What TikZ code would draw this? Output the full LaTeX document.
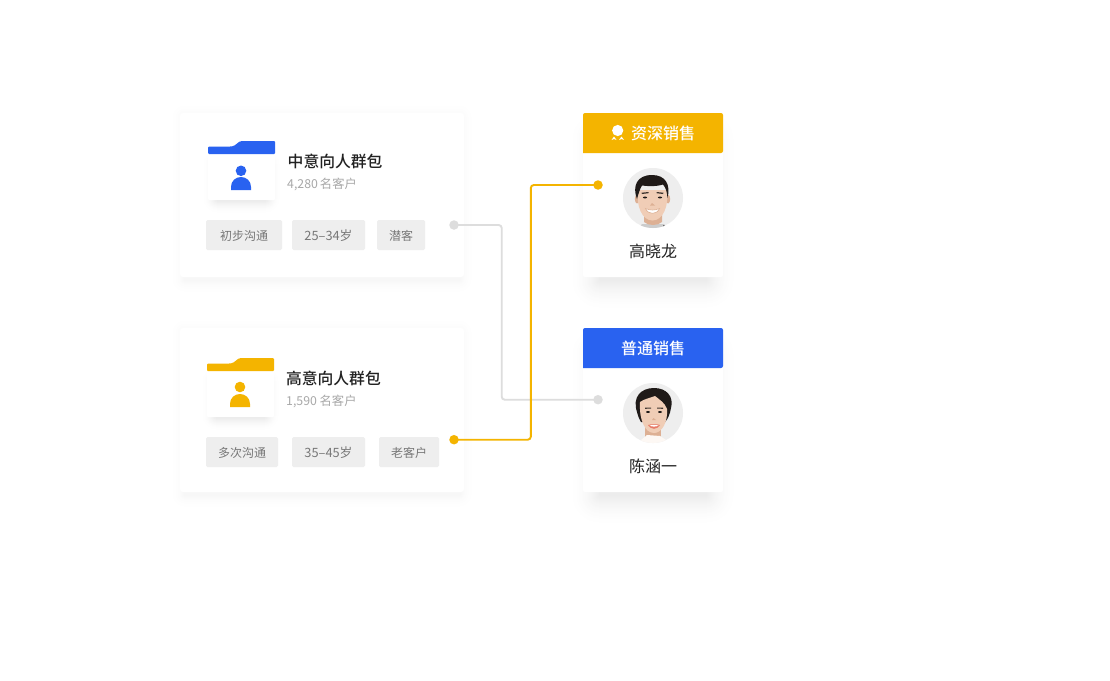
\documentclass[tikz,border=0pt]{standalone}
\usepackage{fontspec}
\setmainfont{Noto Sans CJK SC}
\newfontfamily\medfont{Noto Sans CJK SC Medium}
\definecolor{ablue}{HTML}{2962F0}
\definecolor{ayel}{HTML}{F4B400}
\definecolor{agray}{HTML}{DDDDDD}
\definecolor{atag}{HTML}{EEEEEE}
\definecolor{atxt}{HTML}{777777}
\definecolor{asub}{HTML}{A8A8A8}
\definecolor{adark}{HTML}{222222}
\definecolor{askin}{HTML}{F0CDB6}
\definecolor{askind}{HTML}{DDB094}
\definecolor{ahair}{HTML}{1F1A18}
\newcommand{\softshadow}[6]{%
  \foreach \i in {#5,...,1}{%
    \pgfmathsetmacro{\dk}{#6*(1-(\i-0.5)/#5)*(1-(\i-0.5)/#5)}%
    \fill[black!\dk!white,rounded corners={\i pt}]
      (#1-\i,#2-\i) rectangle (#3+\i,#4+\i);}%
  \fill[black!#6!white] (#1,#2) rectangle (#3,#4);}
\tikzset{
  card/.style={draw=none,fill=white,rounded corners=3,inner sep=0,minimum width=#1},
  tagbox/.style={fill=atag,rounded corners=1.5,inner sep=0,minimum height=30,text=atxt,text height=11pt,text depth=0pt,font=\fontsize{12}{12}\selectfont},
  numtag/.style={tagbox,font=\fontsize{12.8}{12}\selectfont},
  title/.style={anchor=west,inner sep=0,text=adark,font=\fontsize{15.8}{16}\medfont},
  subt/.style={anchor=west,inner sep=0,text=asub,font=\fontsize{12.3}{12}\selectfont},
  nameT/.style={inner sep=0,text=adark,font=\fontsize{16}{16}\selectfont},
  headT/.style={inner sep=0,text=white,font=\fontsize{16}{16}\medfont},
  dot/.style={circle,fill=#1,inner sep=0,minimum size=9.5},
  wire/.style={draw=#1,line width=1.9,rounded corners=3},
  avatar/.style={circle,fill=atag,inner sep=0,minimum size=60},
}
\begin{document}
\begin{tikzpicture}[x=1pt,y=-1pt]
\useasboundingbox (0,0) rectangle (1110,680);
\fill[white] (0,0) rectangle (1110,680);
% shadows
\softshadow{185}{118}{459}{279}{15}{3.2}
\softshadow{185}{333}{459}{494}{15}{3.2}
\softshadow{600}{140}{706}{280}{32}{7.5}
\softshadow{600}{355}{706}{495}{32}{7.5}
% left cards
\node[card=284,minimum height=164] (c1) at (322,195) {};
\node[card=284,minimum height=164] (c2) at (322,410) {};
% folder 1
\softshadow{218}{165}{265}{198}{16}{11}
\node[fill=white,rounded corners=1,inner sep=0,minimum width=67,minimum height=46] (f1) at (241.5,177) {};
\fill[ablue,rounded corners=1] (208,154) -- (208,146.5) -- (231,146.5) .. controls (236,146) and (238,141) .. (243,141) -- (275,141) -- (275,154) -- cycle;
\fill[ablue] (241,170.8) circle (5.3);
\fill[ablue] (231,190) -- (231,187) .. controls (231,181) and (235.5,177) .. (241,177) .. controls (246.5,177) and (251,181) .. (251,187) -- (251,190) -- cycle;
% folder 2
\softshadow{217}{382}{264}{415}{16}{11}
\node[fill=white,rounded corners=1,inner sep=0,minimum width=67,minimum height=46] (f2) at (240.5,394) {};
\fill[ayel,rounded corners=1] (207,371) -- (207,363.5) -- (230,363.5) .. controls (235,363) and (237,358) .. (242,358) -- (274,358) -- (274,371) -- cycle;
\fill[ayel] (240,387) circle (5.3);
\fill[ayel] (230,407) -- (230,404) .. controls (230,398) and (234.5,394) .. (240,394) .. controls (245.5,394) and (250,398) .. (250,404) -- (250,407) -- cycle;
% titles
\node[title] (t1) at (287.5,161) {中意向人群包};
\node[subt] (s1) at (287,184) {4,280\,名客户};
\node[title] (t2) at (285.8,378) {高意向人群包};
\node[subt] (s2) at (286,401) {1,590 名客户};
% tags
\node[tagbox,minimum width=76] (a1) at (244,235) {初步沟通};
\node[numtag,minimum width=73] (a2) at (328.5,235) {25–34岁};
\node[tagbox,minimum width=48] (a3) at (401,235) {潜客};
\node[tagbox,minimum width=72] (b1) at (242,452) {多次沟通};
\node[numtag,minimum width=73] (b2) at (328.5,452) {35–45岁};
\node[tagbox,minimum width=60] (b3) at (409,452) {老客户};
% person cards
\node[card=140,minimum height=164,rounded corners=2] (p1) at (653,195) {};
\node[card=140,minimum height=164,rounded corners=2] (p2) at (653,410) {};
\fill[ayel,rounded corners=2] (583,153) [sharp corners] -- (583,153) [rounded corners=2] -- (583,113) -- (723,113) -- (723,153) [sharp corners] -- cycle;
\fill[ablue,rounded corners=2] (583,368) [sharp corners] -- (583,368) [rounded corners=2] -- (583,328) -- (723,328) -- (723,368) [sharp corners] -- cycle;
% medal icon
\fill[white] (617.7,130.5) circle (5.6);
\fill[white] (611.5,140) -- (614,136.5) -- (616.5,140) -- (614,139) -- cycle;
\fill[white] (619,140) -- (621.5,136.5) -- (624,140) -- (621.5,139) -- cycle;
\node[headT] (h1) at (663,133.5) {资深销售};
\node[headT] (h2) at (653,348.5) {普通销售};
\node[nameT] (n1) at (653,251) {高晓龙};
\node[nameT] (n2) at (653,466) {陈涵一};
% avatars
\node[avatar] (v1) at (653,198) {};
\node[avatar] (v2) at (653,413) {};
\begin{scope}
\clip (v1.center) circle (30);
\fill[white!80!black] (638,229) -- (642,224) -- (664,224) -- (668,229) -- cycle;
\fill[askind] (644,212) -- (644,222) .. controls (648,226) and (658,226) .. (662,222) -- (662,212) -- cycle;
\fill[ahair!70!black] (640,226) circle (.8) (664,226) circle (.8);
\fill[askind] (637,199) ellipse (2.2 and 4.5) (668,199) ellipse (2.2 and 4.5);
\fill[askin] (638,190) -- (667,190) .. controls (669,206) and (663,220.5) .. (652.5,220.5) .. controls (642,220.5) and (636,206) .. (638,190) -- cycle;
\fill[ahair] (637,199) .. controls (632,186) and (637,175) .. (652,175) .. controls (665,175) and (671,184) .. (667.5,198)
  .. controls (667,192) and (666,188) .. (663,184.5) .. controls (655,187) and (646,186) .. (642,185.5) .. controls (640,189) and (638.5,193) .. (637,199) -- cycle;
\fill[ahair!85!askin] (641.5,192.7) -- (648.5,192) -- (648.5,193.2) -- (642,194) -- cycle;
\fill[ahair!85!askin] (656.5,192) -- (663.5,192.7) -- (663,194) -- (656.5,193.2) -- cycle;
\fill[ahair] (645,197.5) ellipse (2.2 and .9) (660,197.5) ellipse (2.2 and .9);
\fill[askind] (652,203) -- (650,205.5) -- (655,205.5) -- cycle;
\fill[white,draw=askind,line width=.6] (645.5,208.5) .. controls (650,210.5) and (655,210.5) .. (659.5,208.5) .. controls (657,215) and (648,215) .. (645.5,208.5) -- cycle;
\end{scope}
\begin{scope}
\clip (v2.center) circle (30);
\fill[ahair] (637,412) .. controls (632,397) and (641,388) .. (654,388) .. controls (667,388) and (674,397) .. (671,408) .. controls (670,414) and (668,419) .. (665,422) -- (641,422) .. controls (639,419) and (638,416) .. (637,412) -- cycle;
\fill[askind] (645,425) rectangle (661,440);
\fill[white!85!askin] (636,445) .. controls (640,440) and (644,438) .. (647,435) -- (660,436) .. controls (663,438) and (667,440) .. (671,445) -- cycle;
\fill[askin] (640,402) .. controls (644,399) and (650,398) .. (655,396) .. controls (660,400) and (665,403) .. (667,409) .. controls (668,422) and (662,433) .. (654,433) .. controls (645,433) and (639,420) .. (640,402) -- cycle;
\fill[ahair!85!askin] (645,407.5) -- (651,407.7) -- (651,408.6) -- (645,408.8) -- cycle;
\fill[ahair!85!askin] (657,407.7) -- (663,407.5) -- (663,408.8) -- (657,408.6) -- cycle;
\fill[ahair] (648,412) ellipse (2 and .9) (660,412) ellipse (2 and .9);
\fill[askind] (653.5,418) -- (652,420) -- (656,420) -- cycle;
\fill[red!30!askind] (648,425) .. controls (651,424) and (657,424) .. (660,425) .. controls (657,430) and (651,430) .. (648,425) -- cycle;
\fill[white] (649.5,425.4) .. controls (652,425) and (656,425) .. (658.5,425.4) .. controls (656,427) and (652,427) .. (649.5,425.4) -- cycle;
\end{scope}
% connectors
\node[dot=agray] (d1) at (454,225) {};
\node[dot=agray] (d2) at (598,399.7) {};
\node[dot=ayel] (d3) at (454,439.7) {};
\node[dot=ayel] (d4) at (598,185) {};
\coordinate (g) at (501.7,300);
\coordinate (y) at (530.8,300);
\draw[wire=agray] (d1.center) -- (d1.center -| g) -- (d2.center -| g) -- (d2.center);
\draw[wire=ayel] (d3.center) -- (d3.center -| y) -- (d4.center -| y) -- (d4.center);
\end{tikzpicture}
\end{document}
